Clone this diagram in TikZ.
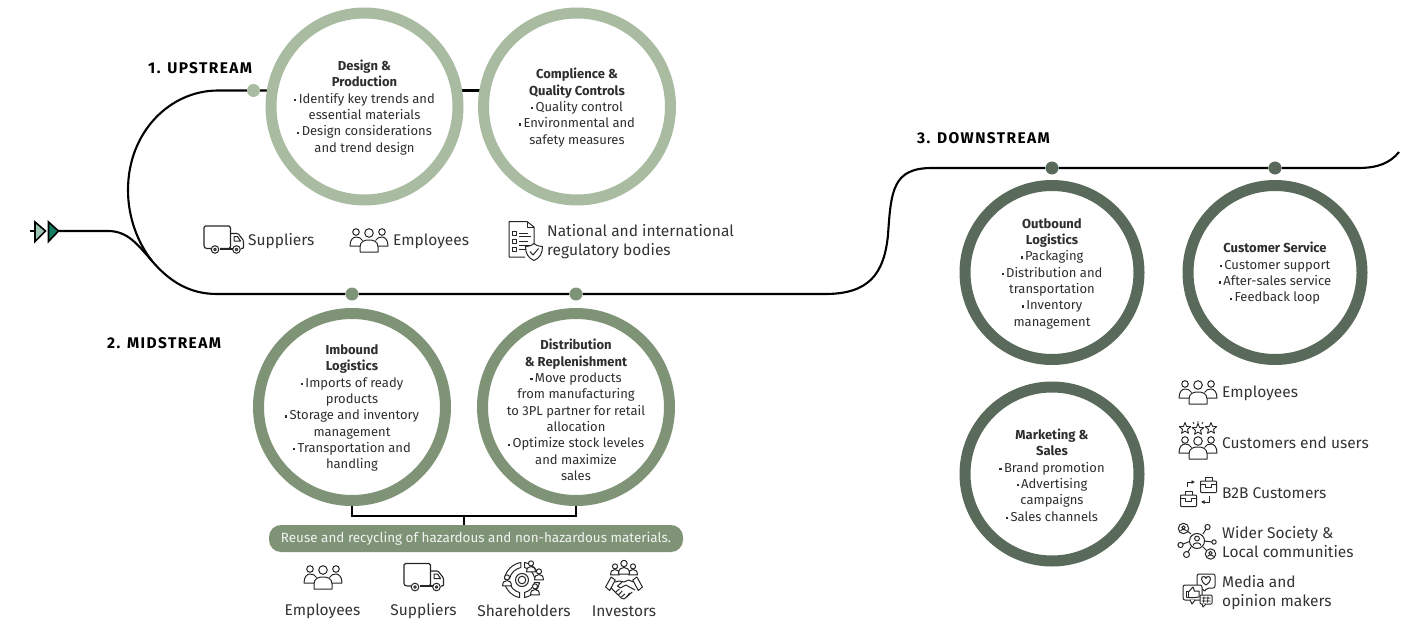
\documentclass[tikz,border=0pt]{standalone}
\usepackage{fontspec}
\setmainfont{Fira Sans}
\usetikzlibrary{backgrounds,calc,arrows.meta}
\definecolor{lightg}{HTML}{A9BCA1}
\definecolor{midg}{HTML}{7F9377}
\definecolor{darkg}{HTML}{5A6A5A}
\definecolor{txt}{HTML}{2E2E2E}
\definecolor{ictxt}{HTML}{333333}
\definecolor{tria}{HTML}{9CC4B0}
\definecolor{trib}{HTML}{127D63}
\newcommand{\bl}{\rule[.3ex]{2.2pt}{2.2pt}\hspace{2.4pt}}
\tikzset{
 x=1pt,y=-1pt,
 ringbase/.style={circle,draw,fill=white,outer sep=0pt,inner sep=0pt},
 ringa/.style={ringbase,draw=lightg,line width=11pt,minimum size=187pt},
 ringb/.style={ringbase,draw=midg,line width=11pt,minimum size=187pt},
 ringc/.style={ringbase,draw=darkg,line width=11pt,minimum size=174pt},
 body/.style={align=center,inner sep=0pt,text=txt,yshift=-1pt,font=\fontsize{13}{16.35}\selectfont},
 hdr/.style={anchor=west,inner sep=0pt,text=black,font=\fontsize{15.5}{16}\bfseries\selectfont\addfontfeatures{LetterSpace=9}},
 lab/.style={anchor=west,inner sep=0pt,text=ictxt,align=left,font=\fontsize{15.5}{19}\selectfont},
 labc/.style={lab,anchor=center},
 dota/.style={circle,fill=lightg,minimum size=13pt,inner sep=0pt},
 dotb/.style={circle,fill=midg,minimum size=13pt,inner sep=0pt},
 dotc/.style={circle,fill=darkg,minimum size=13pt,inner sep=0pt},
 flow/.style={draw=black,line width=2.1pt},
 ic/.style={draw=black!85,line width=1pt,line join=round,fill=none},
 personic/.pic={
  \draw[ic,fill=white] (0,-4.5) circle (3.2);
  \draw[ic,fill=white] (-5.5,6) .. controls (-5.5,1) and (-3,-.5) .. (0,-.5) .. controls (3,-.5) and (5.5,1) .. (5.5,6) -- cycle;
 },
 peopleic/.pic={
  \draw[ic] (-13,-8) circle (3.3) (0,-7) circle (4.3) (13,-8) circle (3.3);
  \draw[ic] (-9,12) -- (-9,7) .. controls (-9,1) and (-4,0) .. (0,0) .. controls (4,0) and (9,1) .. (9,7) -- (9,12) -- cycle;
  \draw[ic] (-9,6) -- (-19,6) .. controls (-19,0) and (-16,-3) .. (-13,-3) .. controls (-10,-3) and (-8,-2) .. (-6.5,.5);
  \draw[ic] (9,6) -- (19,6) .. controls (19,0) and (16,-3) .. (13,-3) .. controls (10,-3) and (8,-2) .. (6.5,.5);
 },
 truckic/.pic={
  \draw[ic,line width=1.1pt,rounded corners=1.5pt] (-13,9) -- (-18,9) -- (-20,8) -- (-20,-13.5) -- (6.5,-13.5) -- (6.5,9) -- (-4,9);
  \draw[ic,line width=1.1pt,rounded corners=1pt] (6.5,-6) -- (14,-6) -- (19.5,1) -- (19.5,9) -- (17,9);
  \draw[ic] (10,-3) -- (13.5,-3) -- (16.5,1.5) -- (10,1.5) -- cycle;
  \draw[ic,line width=1.8pt] (-4,9.2) -- (9,9.2);
  \draw[ic] (-9,10) circle (3.8) (-9,10) circle (1.3) (12.5,10) circle (3.8) (12.5,10) circle (1.3);
 },
 docic/.pic={
  \draw[ic] (9,3) -- (9,-13) -- (2,-18.5) -- (-16,-18.5) -- (-16,17) -- (0,17);
  \draw[ic] (2,-18.5) -- (2,-13) -- (9,-13);
  \foreach \yy in {-7,1,9}{
   \draw[ic] (-12.5,\yy-2) rectangle (-8.5,\yy+2);
   \draw[ic] (-6,\yy) -- (3,\yy);
  }
  \draw[ic] (-6,-3.5) -- (6,-3.5) (-6,5) -- (6,5);
  \draw[ic,fill=white] (9,3.5) .. controls (12,6) and (15,6.5) .. (17.5,6.5) .. controls (17.5,13) and (15,18) .. (9,20.5) .. controls (3,18) and (.5,13) .. (.5,6.5) .. controls (3,6.5) and (6,6) .. (9,3.5) -- cycle;
  \draw[ic] (5,11.5) -- (8,15) -- (13.5,8.5);
 },
 shareic/.pic={
  \draw[ic] (0,0) circle (6.5) (0,0) circle (3.8);
  \begin{scope}[scale=1.25]
  \draw[ic] (-14,-1) .. controls (-13,-8) and (-7,-13) .. (-1,-14) -- (-1,-10) .. controls (-5,-9) and (-9,-6) .. (-10,-1) -- cycle;
  \draw[ic] (2,-14) .. controls (8,-13) and (13,-8) .. (14,-2) -- (10,-2) .. controls (9,-6) and (6,-9) .. (2,-10) -- cycle;
  \draw[ic] (14,2) .. controls (13,8) and (8,13) .. (2,14) -- (2,10) .. controls (6,9) and (9,6) .. (10,2) -- cycle;
  \draw[ic] (-14,2) .. controls (-13,8) and (-8,13) .. (-2,14) -- (-2,10) .. controls (-6,9) and (-9,6) .. (-10,2) -- cycle;
  \end{scope}
  \path (-15,1) pic[scale=.8] {personic} (9,-13) pic[scale=.8] {personic} (17,-5) pic[scale=.8] {personic} (13,10) pic[scale=.8] {personic};
 },
 investic/.pic={
  \path (-9,-9) pic[scale=.8] {personic} (9,-9) pic[scale=.8] {personic} (0,-11) pic[scale=1] {personic};
  \begin{scope}[xscale=.92]
  \draw[ic] (-20,8) -- (-14,-2) -- (-9.5,1) -- (-15.5,11.5) -- cycle;
  \draw[ic] (20,8) -- (14,-2) -- (9.5,1) -- (15.5,11.5) -- cycle;
  \draw[ic] (-10,3) -- (-5,2) -- (0,3) -- (5,1) -- (10,3);
  \draw[ic] (-2,3) -- (-7,7) -- (-4,9) -- (2,6) -- (12,11);
  \draw[ic] (-14,9) -- (-3,19) -- (0,20) -- (9,13);
  \draw[ic] (-9,13) -- (-5,10) (-6,16) -- (-2,12) (-3,18) -- (1,15) (3,18) -- (6,14);
  \end{scope}
 },
 starmk/.pic={
  \draw[ic,line width=.9pt] (90:6) -- (126:2.6) -- (162:6) -- (198:2.6) -- (234:6) -- (270:2.6) -- (306:6) -- (342:2.6) -- (18:6) -- (54:2.6) -- cycle;
 },
 custic/.pic={
  \foreach \xx/\yy in {-13/-12.5,0/-11.5,13/-12.5} \path (\xx,\yy) pic[yscale=-1] {starmk};
  \draw[ic,line width=.8pt] (0,-20) -- (0,-17.5) (-5,-19) -- (-4,-17) (5,-19) -- (4,-17);
  \draw[ic] (-13,-1) circle (3.3) (0,0) circle (4.3) (13,-1) circle (3.3);
  \draw[ic] (-9,18) -- (-9,13) .. controls (-9,7) and (-4,6) .. (0,6) .. controls (4,6) and (9,7) .. (9,13) -- (9,18) -- cycle;
  \draw[ic] (-9,12) -- (-19,12) .. controls (-19,6) and (-16,3) .. (-13,3) .. controls (-10,3) and (-8,4) .. (-6.5,6.5);
  \draw[ic] (9,12) -- (19,12) .. controls (19,6) and (16,3) .. (13,3) .. controls (10,3) and (8,4) .. (6.5,6.5);
 },
 caseic/.pic={
  \draw[ic,rounded corners=.8pt] (-8,-4.5) rectangle (8,7);
  \draw[ic] (-3.5,-4.5) -- (-3.5,-8) -- (3.5,-8) -- (3.5,-4.5);
  \draw[ic] (-8,-1) -- (-3,-1) -- (-3,1.5) -- (3,1.5) -- (3,-1) -- (8,-1);
 },
 bbic/.pic={
  \path (-9.5,7.5) pic {caseic} (10.5,-6.5) pic {caseic};
  \draw[ic,-{Latex[length=3.5pt,width=4pt]}] (-11,-5) -- (-11,-10) -- (-3,-10);
  \draw[ic,-{Latex[length=3.5pt,width=4pt]}] (11,4) -- (11,10) -- (3,10);
 },
 netic/.pic={
  \draw[ic] (-14,3) -- (-6,0) (-12,-12) -- (-6,-7) (6,-7) -- (9,-12) (7,0) -- (15,1) (-6,6) -- (-9,11) (6,6) -- (11,11);
  \draw[ic,fill=white] (0,0) circle (7.5);
  \draw[ic] (0,-2.5) circle (2.4);
  \draw[ic] (-4,4.5) .. controls (-4,1) and (4,1) .. (4,4.5);
  \draw[ic,fill=white] (-13.5,-12.5) circle (5.2) (13.5,13) circle (5.2);
  \draw[ic] (-13.5,-13.5) circle (1.7) (13.5,12) circle (1.7);
  \draw[ic] (-16.5,-10) .. controls (-16,-12) and (-11,-12) .. (-10.5,-10);
  \draw[ic] (10.5,15.5) .. controls (11,13.5) and (16,13.5) .. (16.5,15.5);
  \draw[ic] (10.5,-14) circle (2.6) (-16.5,4) circle (2.6) (17,1) circle (2.2) (-10.5,13.5) circle (3);
 },
 mediaic/.pic={
  \draw[ic,rounded corners=2pt] (-1,-18) -- (17,-18) -- (17,-4) -- (9,-4) -- (6,0) -- (5,-4) -- (-1,-4) -- cycle;
  \draw[ic] (8,-7) .. controls (2,-11) and (3,-15.5) .. (5.5,-15.5) .. controls (7,-15.5) and (8,-14.5) .. (8,-13.5) .. controls (8,-14.5) and (9,-15.5) .. (10.5,-15.5) .. controls (13,-15.5) and (14,-11) .. (8,-7) -- cycle;
  \draw[ic,fill=white,rounded corners=2pt] (-15,-7) rectangle (4,8);
  \draw[ic,fill=white] (-8,8) -- (-6,12) -- (-3,8);
  \draw[ic] (-12,-1) rectangle (-9.5,5.5);
  \draw[ic] (-9.5,0) -- (-6,-4) -- (-5,-5) -- (-4,-2.5) -- (-4,-1) -- (1,-1) -- (1,5) -- (-3,5.5) -- (-9.5,5.5);
  \draw[ic,fill=white,rounded corners=1pt] (2,3) rectangle (14,12);
  \draw[ic,fill=white] (4,12) -- (5,15) -- (8,12);
  \draw[ic,line width=.9pt] (6,4.5) -- (5.5,10.5) (10,4.5) -- (9.5,10.5) (3.5,6) -- (12.5,6) (3.5,9) -- (12.5,9);
 },
}
\begin{document}
\begin{tikzpicture}
\useasboundingbox (0,0) rectangle (1411,623);
% rings
\node[ringa] (c1) at (364.5,106.5) {};
\node[ringa] (c2) at (577,106.5) {};
\node[ringb] (c3) at (352,407) {};
\node[ringb] (c4) at (576,407) {};
\node[ringc] (c5) at (1052,272.5) {};
\node[ringc] (c6) at (1275,272.5) {};
\node[ringc] (c7) at (1052,474) {};
% dots
\node[dota] (d1) at (253.5,90.5) {};
\node[dotb] (d2) at (352,294) {};
\node[dotb] (d3) at (576,294) {};
\node[dotc] (d4) at (1052,168) {};
\node[dotc] (d5) at (1275,168) {};
\coordinate (st) at (59,231);
\coordinate (join) at (152,261);
\coordinate (endp) at (1399,152);
% pill
\node[fill=midg,rounded corners=12pt,minimum width=414pt,minimum height=27pt,inner sep=0pt,text=white!90!midg,font=\fontsize{13.45}{15}\selectfont] (pill) at (476,538.5) {Reuse and recycling of hazardous and non-hazardous materials.};
\coordinate (brk) at (464,516);
\begin{scope}[on background layer]
 \draw[flow] (st) -- (108,231) .. controls (128,231) and (138,245) .. (join) .. controls (170,282) and (190,294) .. (217,294) -- (d2) -- (d3) -- (825,294)
   .. controls (868,294) and (884,275) .. (888,235) .. controls (891,190) and (893,168) .. (932,168) -- (d4) -- (d5) -- (1358,168) .. controls (1378,168) and (1390,163) .. (endp);
 \draw[flow] (join) .. controls (138,243) and (128,218) .. (128,190) .. controls (128,132) and (170,90.5) .. (218,90.5) -- (d1) -- (c1.west |- d1);
 \draw[flow] (c1.east |- d1) -- (c2.west |- d1);
 \draw[flow] (c3.south) -- (c3.south |- brk) -- (c4.south |- brk) -- (c4.south);
 \draw[flow] (brk) -- (brk |- pill.north);
\end{scope}
% arrow mark
\draw[line width=1.6pt] (30,231) -- (36,231);
\draw[draw=black,fill=tria,line width=1.6pt,line join=miter] (35,222) -- (45.5,231) -- (35,241.5) -- cycle;
\draw[draw=black,fill=trib,line width=1.6pt,line join=miter] (48.5,222) -- (58.5,231) -- (48.5,241.5) -- cycle;
% headers
\node[hdr] (h1) at (148,68) {1. UPSTREAM};
\node[hdr] (h2) at (107,343) {2. MIDSTREAM};
\node[hdr] (h3) at (917,138) {3. DOWNSTREAM};
% ring texts
\node[body] (t1) at (c1) {\textbf{Design \&}\\\textbf{Production}\\\bl Identify key trends and\\essential materials\\\bl Design considerations\\and trend design};
\node[body] (t2) at (c2) {\textbf{Complience \&}\\\textbf{Quality Controls}\\\bl Quality control\\\bl Environmental and\\safety measures};
\node[body] (t3) at (c3) {\textbf{Imbound}\\\textbf{Logistics}\\\bl Imports of ready\\products\\\bl Storage and inventory\\management\\\bl Transportation and\\handling};
\node[body] (t4) at (576,409) {\textbf{Distribution}\\\textbf{\& Replenishment}\\\bl Move products\\from manufacturing\\to 3PL partner for retail\\allocation\\\bl Optimize stock leveles\\and maximize\\sales};
\node[body] (t5) at (c5) {\textbf{Outbound}\\\textbf{Logistics}\\\bl Packaging\\\bl Distribution and\\transportation\\\bl Inventory\\management};
\node[body] (t6) at (c6) {\textbf{Customer Service}\\\bl Customer support\\\bl After-sales service\\\bl Feedback loop};
\node[body] (t7) at (c7) {\textbf{Marketing \&}\\\textbf{Sales}\\\bl Brand promotion\\\bl Advertising\\campaigns\\\bl Sales channels};
% labels
\node[lab] (l1) at (248,241) {Suppliers};
\node[lab] (l2) at (393,241) {Employees};
\node[lab] (l3) at (547,241.5) {National and international\\regulatory bodies};
\node[labc] (l4) at (322.5,611) {Employees};
\node[labc] (l5) at (423.5,611) {Suppliers};
\node[labc] (l6) at (524,611) {Shareholders};
\node[labc] (l7) at (624,611) {Investors};
\node[lab] (l8) at (1222,393) {Employees};
\node[lab] (l9) at (1222,443) {Customers end users};
\node[lab] (l10) at (1222,493) {B2B Customers};
\node[lab] (l11) at (1222,542.5) {Wider Society \&\\Local communities};
\node[lab] (l12) at (1222,592.5) {Media and\\opinion makers};
% icons
\path (224,239.5) pic {truckic};
\path (369,240) pic {peopleic};
\path (525,240) pic {docic};
\path (323,577) pic {peopleic};
\path (424,577) pic {truckic};
\path (522,580) pic {shareic};
\path (624,579) pic {investic};
\path (1198,392) pic {peopleic};
\path (1198,441) pic {custic};
\path (1198,492) pic {bbic};
\path (1197,541) pic {netic};
\path (1198,592) pic {mediaic};
\end{tikzpicture}
\end{document}
